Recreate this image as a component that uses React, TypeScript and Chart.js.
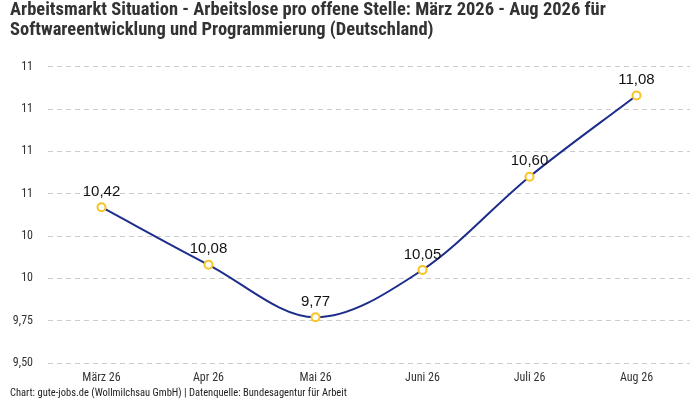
import React, { useEffect, useRef } from 'react';
import { Chart, ChartConfiguration, Plugin, registerables } from 'chart.js';

Chart.register(...registerables);

const months = ['März 26', 'Apr 26', 'Mai 26', 'Juni 26', 'Juli 26', 'Aug 26'];
const ratio = [10.42, 10.08, 9.77, 10.05, 10.6, 11.08];

const titleLines = [
  'Arbeitsmarkt Situation - Arbeitslose pro offene Stelle: März 2026 - Aug 2026 für',
  'Softwareentwicklung und Programmierung (Deutschland)',
];
const footerText =
  'Chart: gute-jobs.de (Wollmilchsau GmbH) | Datenquelle: Bundesagentur für Arbeit';

const condensed = '"Roboto Condensed", "Liberation Sans Narrow", "Open Sans", sans-serif';

// value labels above each point
const pointLabels: Plugin<'line'> = {
  id: 'pointLabels',
  afterDatasetsDraw(chart) {
    const ctx = chart.ctx;
    const meta = chart.getDatasetMeta(0);
    ctx.save();
    ctx.font = '15px "Liberation Sans", Arial, sans-serif';
    ctx.fillStyle = '#111';
    ctx.textAlign = 'center';
    ctx.textBaseline = 'bottom';
    meta.data.forEach((pt, i) => {
      const label = ratio[i].toLocaleString('de-DE', {
        minimumFractionDigits: 2,
        maximumFractionDigits: 2,
      });
      ctx.fillText(label, pt.x, pt.y - 8);
    });
    ctx.restore();
  },
};

const App: React.FC = () => {
  const canvasRef = useRef<HTMLCanvasElement | null>(null);

  useEffect(() => {
    document.body.style.margin = '0';
    if (!canvasRef.current) return;
    const ctx = canvasRef.current.getContext('2d');
    if (!ctx) return;

    const config: ChartConfiguration<'line'> = {
      type: 'line',
      data: {
        labels: months,
        datasets: [
          {
            data: ratio,
            borderColor: '#1c2d8c',
            borderWidth: 2,
            cubicInterpolationMode: 'monotone',
            pointBackgroundColor: '#ffffff',
            pointBorderColor: '#f7c325',
            pointBorderWidth: 2,
            pointRadius: 4,
          },
        ],
      },
      options: {
        animation: false,
        responsive: false,
        layout: { padding: { left: 10, right: 10, top: 0, bottom: 0 } },
        plugins: {
          legend: { display: false },
          tooltip: { enabled: false },
          title: {
            display: true,
            text: titleLines,
            align: 'start',
            color: '#333',
            font: { family: condensed, size: 18.5, weight: 'bold', lineHeight: 1.1 },
            padding: { top: 0, bottom: 26 },
          },
          subtitle: {
            display: true,
            text: footerText,
            position: 'bottom',
            align: 'start',
            color: '#222',
            font: { family: condensed, size: 10.5 },
            padding: { top: 2, bottom: 0 },
          },
        },
        scales: {
          x: {
            offset: true,
            grid: { display: false },
            border: { display: false },
            ticks: {
              color: '#333',
              font: { family: condensed, size: 12 },
              padding: 0,
            },
          },
          y: {
            min: 9.5,
            max: 11.25,
            border: { display: false, dash: [5, 4] },
            grid: { color: '#cccccc', drawTicks: false },
            afterFit: (scale) => {
              scale.width = 38;
            },
            ticks: {
              stepSize: 0.25,
              color: '#333',
              padding: 15,
              font: { family: condensed, size: 12 },
              callback: (v) => {
                const n = Number(v);
                return n < 10
                  ? n.toLocaleString('de-DE', { minimumFractionDigits: 2, maximumFractionDigits: 2 })
                  : n.toLocaleString('de-DE', { maximumFractionDigits: 0 });
              },
            },
          },
        },
      },
      plugins: [pointLabels],
    };

    const chart = new Chart(ctx, config);
    return () => chart.destroy();
  }, []);

  return (
    <div style={{ width: 700, height: 400 }}>
      <canvas ref={canvasRef} width={700} height={400} />
    </div>
  );
};

export default App;
